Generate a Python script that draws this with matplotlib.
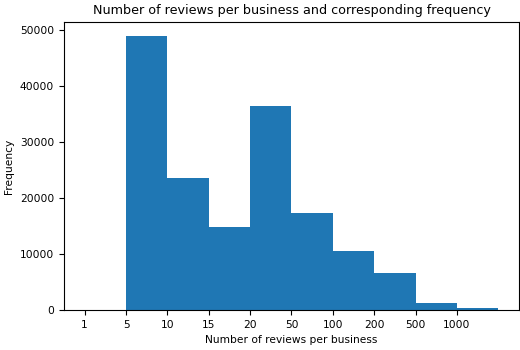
import numpy as np
import matplotlib.pyplot as plt

# bins: 1-5, 5-10, ..., 1000+
tick_labels = ['1', '5', '10', '15', '20', '50', '100', '200', '500', '1000']
counts = [0, 48900, 23600, 14850, 36450, 17350, 10550, 6550, 1350, 300]

bin_pos = np.arange(len(counts))
edges = np.arange(len(counts) + 1)

fig = plt.figure(figsize=(5.2, 3.5), dpi=100)
ax = fig.add_axes([0.123, 0.114, 0.875, 0.823])
ax.hist(bin_pos, bins=edges, weights=counts, color='#1f77b4')
ax.set_xticks(np.arange(len(tick_labels)))
ax.set_xticklabels(tick_labels)
ax.tick_params(labelsize=7.7)
ax.set_xlabel('Number of reviews per business', fontsize=7.7)
ax.set_ylabel('Frequency', fontsize=7.7)
ax.set_title('Number of reviews per business and corresponding frequency', fontsize=9.2)

fig.savefig('out.png', dpi=100)
